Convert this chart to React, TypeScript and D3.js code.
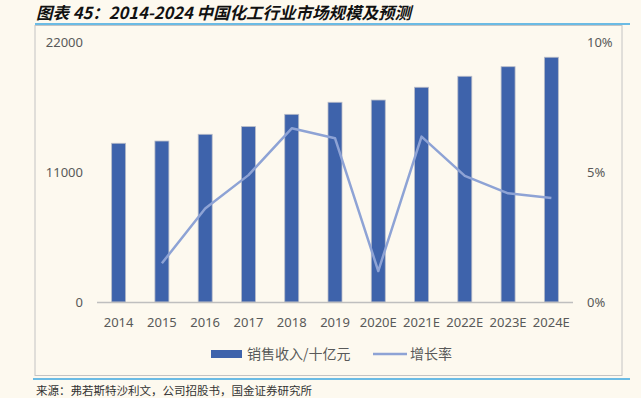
import React from "react";
import * as d3 from "d3";

const categories = ["2014", "2015", "2016", "2017", "2018", "2019", "2020E", "2021E", "2022E", "2023E", "2024E"];
const revenue = [13430, 13620, 14190, 14840, 15880, 16900, 17090, 18170, 19100, 19910, 20710];
const growth: (number | null)[] = [null, 1.49, 3.6, 4.88, 6.68, 6.3, 1.19, 6.36, 4.85, 4.18, 4.0];
const leftTicks = [0, 11000, 22000];
const rightTicks = [0, 5, 10];
const title = "图表 45：2014-2024 中国化工行业市场规模及预测";
const source = "来源：弗若斯特沙利文，公司招股书，国金证券研究所";
const legendBar = "销售收入/十亿元";
const legendLine = "增长率";

const W = 641, H = 398;
const BAR = "#3e63ab";
const LINE = "#8ea3d5";
const TXT = "#595959";
const FONT = "'Noto Sans', 'Noto Sans CJK SC', sans-serif";

export default function App() {
  const x = d3.scaleBand<string>().domain(categories).range([97, 573]).paddingInner(0.677).paddingOuter(0.3385);
  const yL = d3.scaleLinear().domain([0, 22000]).range([302, 42]);
  const yR = d3.scaleLinear().domain([0, 10]).range([302, 42]);
  const cx = (c: string) => (x(c) as number) + x.bandwidth() / 2;
  const pts = categories.map((c, i) => ({ c, v: growth[i] })).filter((d) => d.v !== null) as { c: string; v: number }[];
  const line = d3.line<{ c: string; v: number }>().x((d) => cx(d.c)).y((d) => yR(d.v));

  return (
    <div style={{ position: "fixed", left: 0, top: 0, width: W, height: H }}>
      <svg width={W} height={H} style={{ display: "block" }}>
        <rect x={0} y={0} width={W} height={H} fill="#fdf9ef" />
        <text x={36} y={19} fontSize={16.5} fontWeight="bold" fontStyle="italic" fill="#111" fontFamily="'Noto Sans CJK SC', sans-serif">{title}</text>
        <line x1={35} x2={630} y1={24} y2={24} stroke="#3aa6e0" strokeWidth={1.5} />
        <rect x={35} y={25.5} width={587} height={350} fill="none" stroke="#c4c4c4" strokeWidth={1} />
        <line x1={33} x2={630} y1={379} y2={379} stroke="#3aa6e0" strokeWidth={1.5} />
        <text x={36} y={395} fontSize={11.5} fill="#333" fontFamily="'Noto Sans CJK SC', serif">{source}</text>

        {categories.map((c, i) => (
          <rect key={c} x={x(c)} y={yL(revenue[i])} width={x.bandwidth()} height={302 - yL(revenue[i])} fill={BAR} stroke="#b8bcc8" strokeWidth={0.8} />
        ))}
        <line x1={97} x2={573} y1={302.5} y2={302.5} stroke="#bfbfbf" strokeWidth={1.5} />
        <path d={line(pts) || ""} fill="none" stroke={LINE} strokeWidth={2.5} strokeLinejoin="round" />

        {leftTicks.map((t) => (
          <text key={t} x={83} y={yL(t)} dy="0.35em" textAnchor="end" fontSize={13} fill={TXT} fontFamily={FONT}>{t}</text>
        ))}
        {rightTicks.map((t) => (
          <text key={t} x={587} y={yR(t)} dy="0.35em" textAnchor="start" fontSize={13} fill={TXT} fontFamily={FONT}>{t + "%"}</text>
        ))}
        {categories.map((c) => (
          <text key={c} x={cx(c)} y={322} dy="0.35em" textAnchor="middle" fontSize={13} fill={TXT} fontFamily={FONT}>{c}</text>
        ))}

        <rect x={211} y={350} width={31} height={8} fill={BAR} />
        <text x={247} y={354} dy="0.35em" fontSize={14} fill={TXT} fontFamily="'Noto Sans CJK SC', sans-serif">{legendBar}</text>
        <line x1={373} x2={407} y1={354} y2={354} stroke={LINE} strokeWidth={2.5} />
        <text x={410} y={354} dy="0.35em" fontSize={14} fill={TXT} fontFamily="'Noto Sans CJK SC', sans-serif">{legendLine}</text>
      </svg>
    </div>
  );
}
